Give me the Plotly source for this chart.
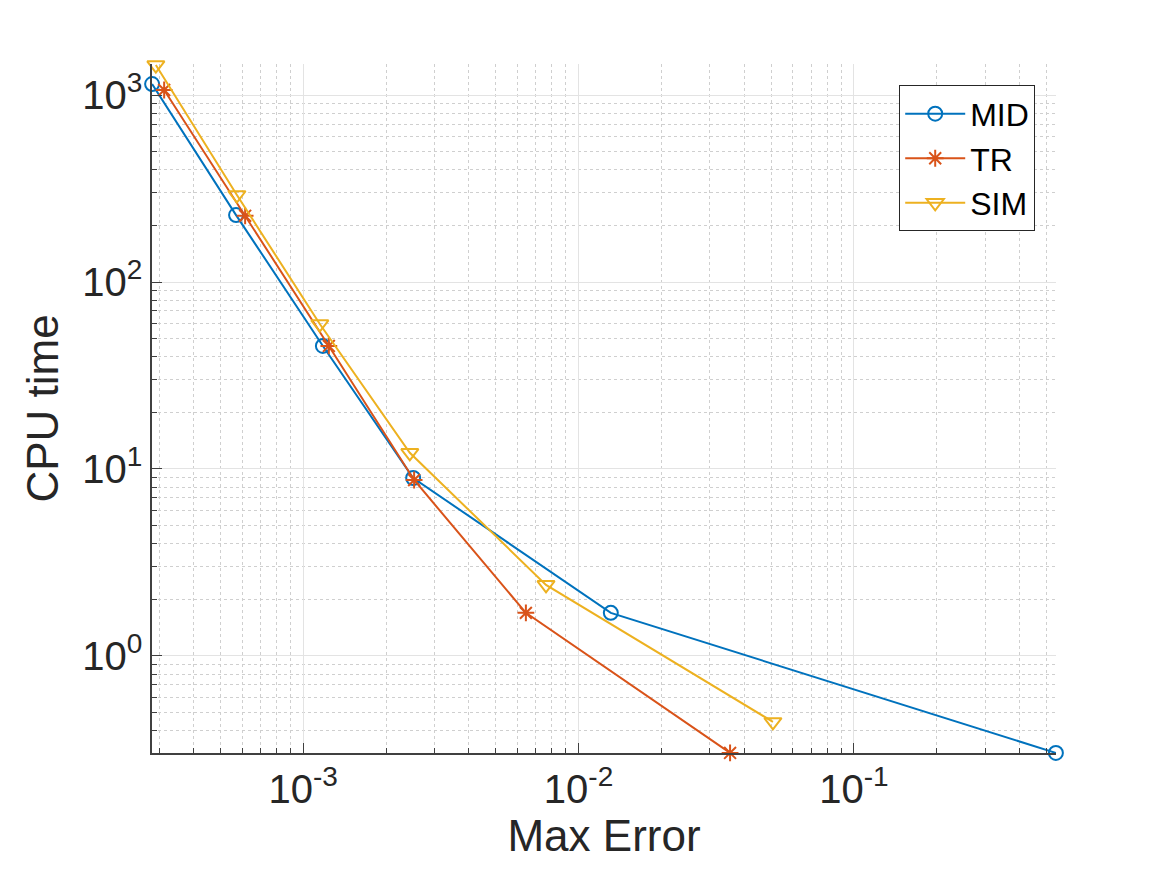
import plotly.graph_objects as go

# Data
mid_err = [2.83e-4, 5.71e-4, 1.18e-3, 2.51e-3, 1.31e-2, 0.541]
mid_cpu = [1145, 228, 45.5, 8.95, 1.70, 0.303]

tr_err = [3.13e-4, 6.16e-4, 1.24e-3, 2.53e-3, 6.44e-3, 0.0355]
tr_cpu = [1064, 226, 45.5, 8.73, 1.70, 0.303]

sim_err = [2.92e-4, 5.75e-4, 1.15e-3, 2.44e-3, 7.62e-3, 0.0508]
sim_cpu = [1446, 292, 59.6, 12.2, 2.40, 0.444]

x_tickvals = [1e-3, 1e-2, 1e-1]
x_ticktext = ["10<sup>-3</sup>", "10<sup>-2</sup>", "10<sup>-1</sup>"]
y_tickvals = [1, 10, 100, 1000]
y_ticktext = ["10<sup>0</sup>", "10<sup>1</sup>", "10<sup>2</sup>", "10<sup>3</sup>"]

x_minor = [m * 10.0 ** e for e in range(-4, 0) for m in range(2, 10)]
y_minor = [m * 10.0 ** e for e in range(-1, 4) for m in range(2, 10)]

FONT = "Liberation Sans, Arial, Helvetica, sans-serif"
TXT = "#262626"

fig = go.Figure()
fig.add_trace(go.Scatter(x=mid_err, y=mid_cpu, name="MID", mode="lines+markers",
                         cliponaxis=False,
                         line=dict(color="#0072BD", width=2),
                         marker=dict(symbol="circle-open", size=14, color="#0072BD",
                                     line=dict(width=2))))
fig.add_trace(go.Scatter(x=tr_err, y=tr_cpu, name="TR", mode="lines+markers",
                         cliponaxis=False,
                         line=dict(color="#D95319", width=2),
                         marker=dict(symbol="asterisk-open", size=14, color="#D95319",
                                     line=dict(width=2, color="#D95319"))))
fig.add_trace(go.Scatter(x=sim_err, y=sim_cpu, name="SIM", mode="lines+markers",
                         cliponaxis=False,
                         line=dict(color="#EDB120", width=2),
                         marker=dict(symbol="triangle-down-open", size=15, color="#EDB120",
                                     line=dict(width=2))))

axis_common = dict(
    type="log",
    showline=True, linecolor="#404040", linewidth=1.5, mirror=False,
    ticks="inside", ticklen=10, tickcolor="#404040", tickwidth=1.2,
    showgrid=True, gridcolor="#e3e3e3", gridwidth=1,
    zeroline=False,
    tickfont=dict(family=FONT, size=40, color=TXT),
)

fig.update_xaxes(**axis_common, range=[-3.5486, -0.2664],
                 tickvals=x_tickvals, ticktext=x_ticktext,
                 minor=dict(tickvals=x_minor, ticks="inside", ticklen=5, tickcolor="#404040",
                            showgrid=True, gridcolor="#cfcfcf", griddash="dot", gridwidth=1),
                 title=dict(text="Max Error", font=dict(family=FONT, size=44, color=TXT),
                            standoff=8))
fig.update_yaxes(**axis_common, range=[-0.5190, 3.166],
                 tickvals=y_tickvals, ticktext=y_ticktext,
                 minor=dict(tickvals=y_minor, ticks="inside", ticklen=5, tickcolor="#404040",
                            showgrid=True, gridcolor="#cfcfcf", griddash="dot", gridwidth=1),
                 title=dict(text="CPU time", font=dict(family=FONT, size=44, color=TXT),
                            standoff=10))

fig.update_layout(
    width=1167, height=875,
    margin=dict(l=152, r=111, t=64, b=122),
    paper_bgcolor="white", plot_bgcolor="white",
    showlegend=True,
    legend=dict(x=0.977, y=0.969, xanchor="right", yanchor="top",
                bgcolor="white", bordercolor="#262626", borderwidth=1,
                font=dict(family=FONT, size=32, color="black"),
                itemwidth=60, tracegroupgap=0),
)

fig.write_html("out.html")
